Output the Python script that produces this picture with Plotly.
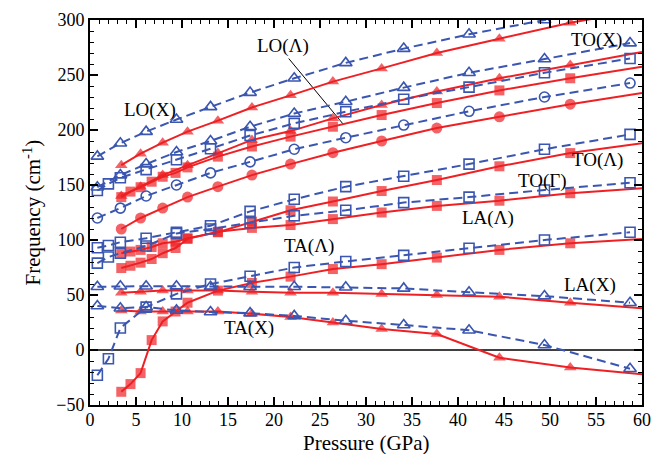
import plotly.graph_objects as go

# ---------------- data ----------------
# pressures (GPa)
P_red_sq = [3.4, 4.4, 5.5, 6.7, 7.9, 9.3, 10.6, 13.9, 17.6, 21.8, 26.4, 31.7, 37.7, 44.5, 52.2, 60.0]
P_red_tri = [3.4, 5.5, 7.9, 10.6, 13.9, 17.6, 21.8, 26.4, 31.7, 37.7, 44.5, 52.2, 60.0]
P_blue_sq = [0.8, 2.0, 3.3, 6.1, 9.4, 13.1, 17.4, 22.2, 27.8, 34.1, 41.2, 49.4, 58.7]
P_blue_tri = [0.8, 3.3, 6.1, 9.4, 13.1, 17.4, 22.2, 27.8, 34.1, 41.2, 49.4, 58.7]

# red (solid, filled markers); last point at 60 GPa is the curve end (no marker)
red_LOX = [168, 178.5, 188.5, 198.5, 208.5, 220.5, 231.5, 244, 256, 270, 283, 297.5, 309]
red_TOX = [140, 148.5, 159, 168, 179, 191, 199, 210.6, 222.7, 235, 247, 259, 271]
red_TOG = [110, 120, 129, 139, 148.5, 159, 169, 179.4, 190, 201.8, 212, 223.5, 233.6]
red_LAX = [52, 53, 54, 54, 54, 53, 52, 52, 51, 50, 48.5, 43, 38]
red_TAX = [36, 35, 35, 35, 35, 33, 30, 25, 19, 14.5, -7, -16, -22]
red_LOL = [139, 144, 148, 153, 157.5, 161, 166, 175.8, 185, 194, 203, 213.6, 224.5, 236, 247, 257.5]
red_TOL = [88, 89.5, 91, 93.6, 97, 98.5, 101.6, 107, 116.7, 127, 135, 144.5, 154.5, 167, 179, 188]
red_LAL = [74.5, 76.6, 79.4, 82.7, 88, 92.7, 101, 107.5, 111, 113.6, 119, 125, 131, 135.7, 142.5, 147]
red_TAL = [-38, -31, -21, 9, 26, 35, 43, 54, 61, 66.7, 73.6, 78, 84, 91, 97, 101]

# blue (dashed, open markers)
blue_LOX = [176, 188, 198.5, 209.5, 221, 234, 247, 261, 274, 287, 300, 313]
blue_TOX = [148, 159, 169, 180, 190, 203, 215, 225.7, 238.5, 252, 264.5, 279]
blue_TOG = [120, 129, 140, 150, 161, 171, 182.5, 193, 204.5, 217, 230, 242.7]
blue_LAX = [57.5, 58, 58, 58, 57.5, 57.5, 57.5, 57, 56, 52.5, 49, 43]
blue_TAX = [40, 38, 39, 36, 34.5, 33.5, 31, 26.6, 22.7, 18, 4.5, -17]
blue_LOL = [145, 151, 156.6, 164, 173, 183, 195, 206, 216.6, 228, 239, 252, 265]
blue_TOL = [93, 95, 98, 101.6, 107, 113, 126, 137, 148.5, 158, 169, 182.5, 196]
blue_LAL = [79, 84.5, 88, 94.5, 106, 110, 115.7, 122, 127, 134, 139, 145.5, 152]
blue_TAL = [-23, -8, 20, 39, 51, 60, 67, 75, 80.5, 86, 92.5, 100, 107]

labels = ["LO(X)", "LO(Λ)", "TO(X)", "TO(Γ)", "TO(Λ)", "LA(Λ)", "TA(Λ)", "LA(X)", "TA(X)"]
label_x = [6.5, 21.0, 55.0, 49.2, 55.2, 43.3, 23.8, 54.4, 17.3]
label_y = [218, 276, 282, 154, 172.5, 120, 95, 59, 20]
# LO(Λ) leader line end points
lead_x = [21.6, 27.5]
lead_y = [265, 205.5]

x_title = "Pressure (GPa)"
y_title = "Frequency (cm<sup>-1</sup>)"

RED = "#EE2024"
BLUE = "#3A56B0"
FONT = "Liberation Serif"

fig = go.Figure()

def red_trace(x, y, sym, size):
    sizes = [size] * (len(x) - 1) + [0]
    fig.add_trace(go.Scatter(
        x=x, y=y, mode="lines+markers",
        line=dict(color=RED, width=2),
        marker=dict(symbol=sym, size=sizes, color=RED, line=dict(width=0)),
        showlegend=False, cliponaxis=True))

def blue_trace(x, y, sym, size):
    fig.add_trace(go.Scatter(
        x=x, y=y, mode="lines+markers",
        line=dict(color=BLUE, width=2, dash="9px,5px"),
        marker=dict(symbol=sym, size=size, color=BLUE, line=dict(width=1.6, color=BLUE)),
        showlegend=False, cliponaxis=True))

# zero line
fig.add_trace(go.Scatter(x=[0, 60], y=[0, 0], mode="lines",
                         line=dict(color="black", width=1.5), showlegend=False))
# leader line
fig.add_trace(go.Scatter(x=lead_x, y=lead_y, mode="lines",
                         line=dict(color="black", width=1), showlegend=False))

red_trace(P_red_tri, red_LOX, "triangle-up", 11)
red_trace(P_red_tri, red_TOX, "triangle-up", 11)
red_trace(P_red_tri, red_TOG, "circle", 11)
red_trace(P_red_tri, red_LAX, "triangle-up", 11)
red_trace(P_red_tri, red_TAX, "triangle-up", 11)
red_trace(P_red_sq, red_LOL, "square", 10)
red_trace(P_red_sq, red_TOL, "square", 10)
red_trace(P_red_sq, red_LAL, "square", 10)
red_trace(P_red_sq, red_TAL, "square", 10)

blue_trace(P_blue_tri, blue_LOX, "triangle-up-open", 11)
blue_trace(P_blue_tri, blue_TOX, "triangle-up-open", 11)
blue_trace(P_blue_tri, blue_TOG, "circle-open", 10)
blue_trace(P_blue_tri, blue_LAX, "triangle-up-open", 11)
blue_trace(P_blue_tri, blue_TAX, "triangle-up-open", 11)
blue_trace(P_blue_sq, blue_LOL, "square-open", 10)
blue_trace(P_blue_sq, blue_TOL, "square-open", 10)
blue_trace(P_blue_sq, blue_LAL, "square-open", 10)
blue_trace(P_blue_sq, blue_TAL, "square-open", 10)

for t, x, y in zip(labels, label_x, label_y):
    fig.add_annotation(x=x, y=y, text=t, showarrow=False,
                       font=dict(family=FONT, size=19, color="black"),
                       xanchor="center", yanchor="middle")

# axis titles
fig.add_annotation(x=0.5, y=0, xref="paper", yref="paper", yshift=-38,
                   text=x_title, showarrow=False, xanchor="center", yanchor="middle",
                   font=dict(family=FONT, size=21, color="black"))
fig.add_annotation(x=0, y=0.5, xref="paper", yref="paper", xshift=-58,
                   text=y_title, showarrow=False, textangle=-90,
                   xanchor="center", yanchor="middle",
                   font=dict(family=FONT, size=21, color="black"))

axis_common = dict(showline=True, linecolor="black", linewidth=2, mirror="ticks",
                   ticks="inside", tickcolor="black", tickwidth=1.5, ticklen=8,
                   showgrid=False, zeroline=False, automargin=False,
                   tickfont=dict(family=FONT, size=18, color="black"))

fig.update_xaxes(range=[0, 60], dtick=5, tick0=0, ticklabelstandoff=-3,
                 minor=dict(ticks="inside", ticklen=4, dtick=1, tickcolor="black", tickwidth=1.2),
                 **axis_common)
fig.update_yaxes(range=[-50, 300], dtick=50, tick0=0,
                 minor=dict(ticks="inside", ticklen=4, dtick=10, tickcolor="black", tickwidth=1.2),
                 **axis_common)

fig.update_layout(width=664, height=454, margin=dict(l=90, r=22, t=20, b=49),
                  font=dict(family=FONT, size=18, color="black"),
                  plot_bgcolor="white", paper_bgcolor="white")

fig.write_html("out.html")
